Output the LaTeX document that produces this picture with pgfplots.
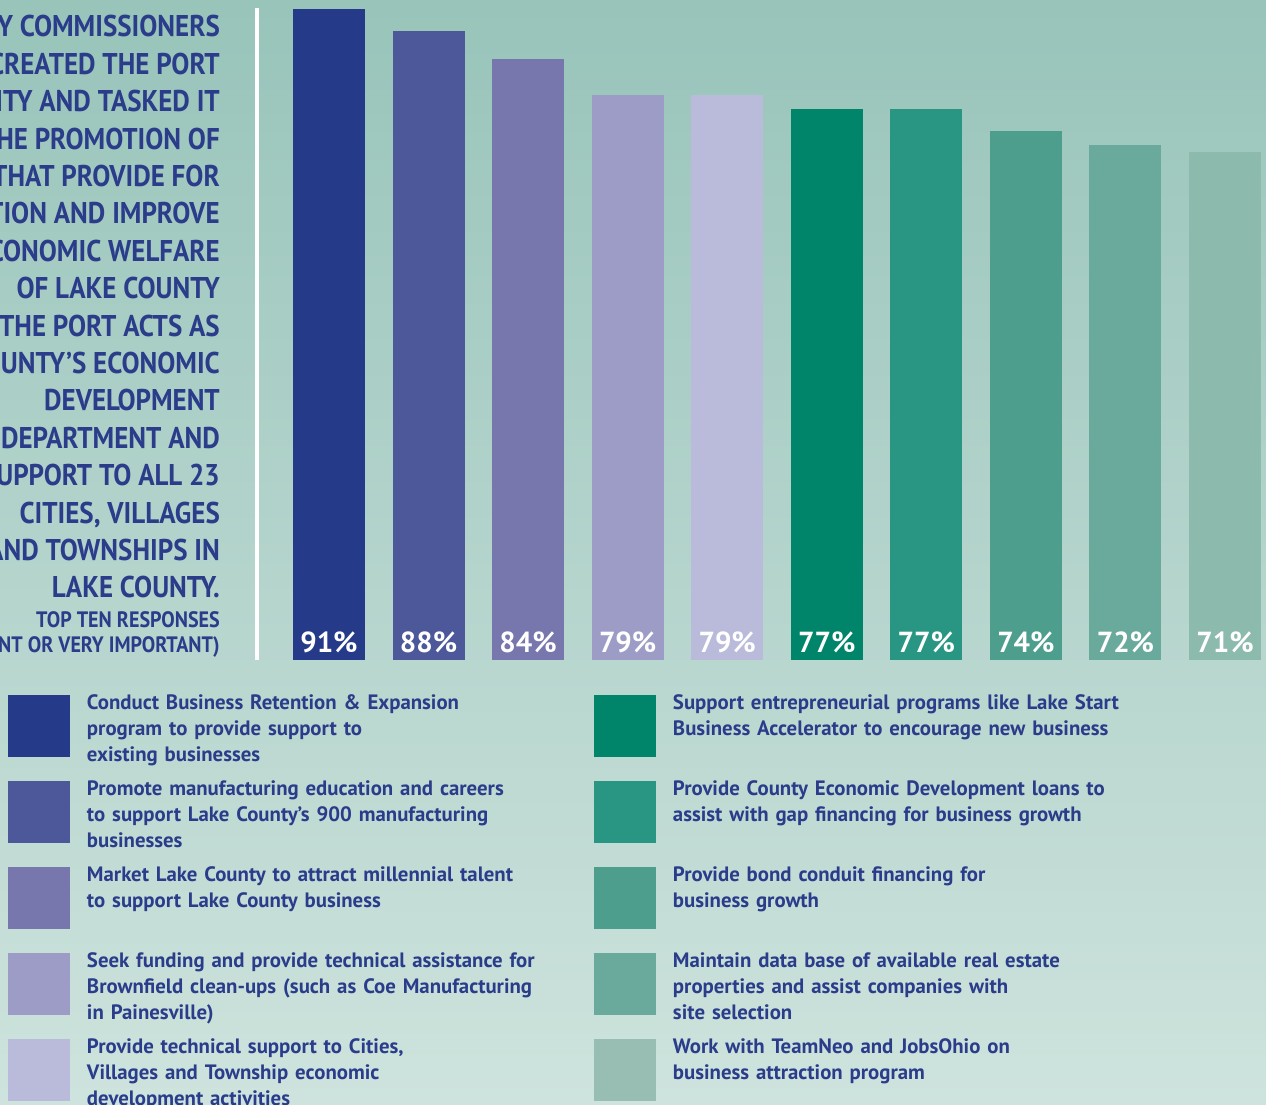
\documentclass[border=0pt]{standalone}
\usepackage{pgfplots}
\pgfplotsset{compat=1.18}
\usepackage{fontspec}
\setmainfont{PT Sans}
\newfontfamily\condfont[FakeStretch=0.9]{PT Sans}
\definecolor{tb}{HTML}{2A3C8A}
\definecolor{bgtop}{HTML}{98C4BA}
\definecolor{bgbot}{HTML}{CEE3DD}
\definecolor{c1}{HTML}{263A8A}
\definecolor{c2}{HTML}{4C5899}
\definecolor{c3}{HTML}{7776AD}
\definecolor{c4}{HTML}{9C9CC6}
\definecolor{c5}{HTML}{BABADA}
\definecolor{c6}{HTML}{00846A}
\definecolor{c7}{HTML}{289683}
\definecolor{c8}{HTML}{4E9E8D}
\definecolor{c9}{HTML}{6AAA9D}
\definecolor{c10}{HTML}{8CBBAD}
\definecolor{c10l}{HTML}{98BEB4}
\pgfplotsset{sw/.style={legend image code/.code={\fill[##1,draw=none] (0pt,0pt) rectangle (62pt,-62pt); \path (0pt,0pt) (79pt,-80pt);}},
  swl/.style={legend image code/.code={\fill[c10l,draw=none] (0pt,0pt) rectangle (62pt,-62pt); \path (0pt,0pt) (79pt,-80pt);}}}
\tikzset{bl/.style={anchor=base, text=white, font=\bfseries\fontsize{29}{31}\selectfont, yshift=7pt}}
\begin{document}
\begin{tikzpicture}
\useasboundingbox (0pt,0pt) rectangle (1266pt,1105pt);
\clip (0pt,0pt) rectangle (1266pt,1105pt);
\shade[top color=bgtop, bottom color=bgbot] (0pt,0pt) rectangle (1266pt,1105pt);
\draw[white, line width=4pt] (256.5pt,445pt) -- (256.5pt,1097pt);
\foreach \t [count=\i from 0] in {LAKE COUNTY COMMISSIONERS,CREATED THE PORT,AUTHORITY AND TASKED IT,WITH THE PROMOTION OF,PROJECTS THAT PROVIDE FOR,JOB CREATION AND IMPROVE,THE ECONOMIC WELFARE,OF LAKE COUNTY,THE PORT ACTS AS,THE COUNTY’S ECONOMIC,DEVELOPMENT,DEPARTMENT AND,PROVIDES SUPPORT TO ALL 23,{CITIES, VILLAGES},AND TOWNSHIPS IN,LAKE COUNTY.}{
  \node[anchor=base east, inner sep=0pt, text=tb, font=\condfont\bfseries\fontsize{30}{36}\selectfont] at (220pt,{(1068-37.4*\i)*1pt}) {\t};
}
\node[anchor=base east, inner sep=0pt, text=tb, font=\condfont\bfseries\fontsize{22.3}{25}\selectfont] at (220pt,477pt) {TOP TEN RESPONSES};
\node[anchor=base east, inner sep=0pt, text=tb, font=\condfont\bfseries\fontsize{22.3}{25}\selectfont] at (220pt,452pt) {(IMPORTANT OR VERY IMPORTANT)};
\begin{axis}[
  at={(279.2pt,445pt)}, anchor=south west,
  scale only axis, width=995.6pt, height=660pt,
  xmin=-0.5, xmax=9.5, ymin=0, ymax=92.31,
  hide axis, clip=false,
  ybar, bar width=72pt, bar shift=0pt,
  legend columns=5, transpose legend, legend cell align=left,
  legend style={at={(-0.2724,-0.05303)}, anchor=north west, draw=none, fill=none,
    inner sep=0pt, outer sep=0pt, row sep=6pt, column sep=0pt,
    cells={anchor=north west},
    nodes={text width=507pt, align=left, inner sep=0pt, text=tb,
      font=\bfseries\fontsize{20.8}{26}\selectfont}},
]
\addplot[fill=c1, draw=none, sw] coordinates {(0,91)};
\addlegendentry{Conduct Business Retention \& Expansion\\program to provide support to\\existing businesses}
\addplot[fill=c2, draw=none, sw] coordinates {(1,88)};
\addlegendentry{Promote manufacturing education and careers\\to support Lake County’s 900 manufacturing\\businesses}
\addplot[fill=c3, draw=none, sw] coordinates {(2,84)};
\addlegendentry{Market Lake County to attract millennial talent\\to support Lake County business}
\addplot[fill=c4, draw=none, sw] coordinates {(3,79)};
\addlegendentry{Seek funding and provide technical assistance for\\Brownfield clean-ups (such as Coe Manufacturing\\in Painesville)}
\addplot[fill=c5, draw=none, sw] coordinates {(4,79)};
\addlegendentry{Provide technical support to Cities,\\Villages and Township economic\\development activities}
\addplot[fill=c6, draw=none, sw] coordinates {(5,77)};
\addlegendentry{Support entrepreneurial programs like Lake Start\\Business Accelerator to encourage new business}
\addplot[fill=c7, draw=none, sw] coordinates {(6,77)};
\addlegendentry{Provide County Economic Development loans to\\assist with gap financing for business growth}
\addplot[fill=c8, draw=none, sw] coordinates {(7,74)};
\addlegendentry{Provide bond conduit financing for\\business growth}
\addplot[fill=c9, draw=none, sw] coordinates {(8,72)};
\addlegendentry{Maintain data base of available real estate\\properties and assist companies with\\site selection}
\addplot[fill=c10, draw=none, swl] coordinates {(9,71)};
\addlegendentry{Work with TeamNeo and JobsOhio on\\business attraction program}
\node[bl] at (axis cs:0,0) {91\%};
\node[bl] at (axis cs:1,0) {88\%};
\node[bl] at (axis cs:2,0) {84\%};
\node[bl] at (axis cs:3,0) {79\%};
\node[bl] at (axis cs:4,0) {79\%};
\node[bl] at (axis cs:5,0) {77\%};
\node[bl] at (axis cs:6,0) {77\%};
\node[bl] at (axis cs:7,0) {74\%};
\node[bl] at (axis cs:8,0) {72\%};
\node[bl] at (axis cs:9,0) {71\%};
\end{axis}
\end{tikzpicture}
\end{document}
